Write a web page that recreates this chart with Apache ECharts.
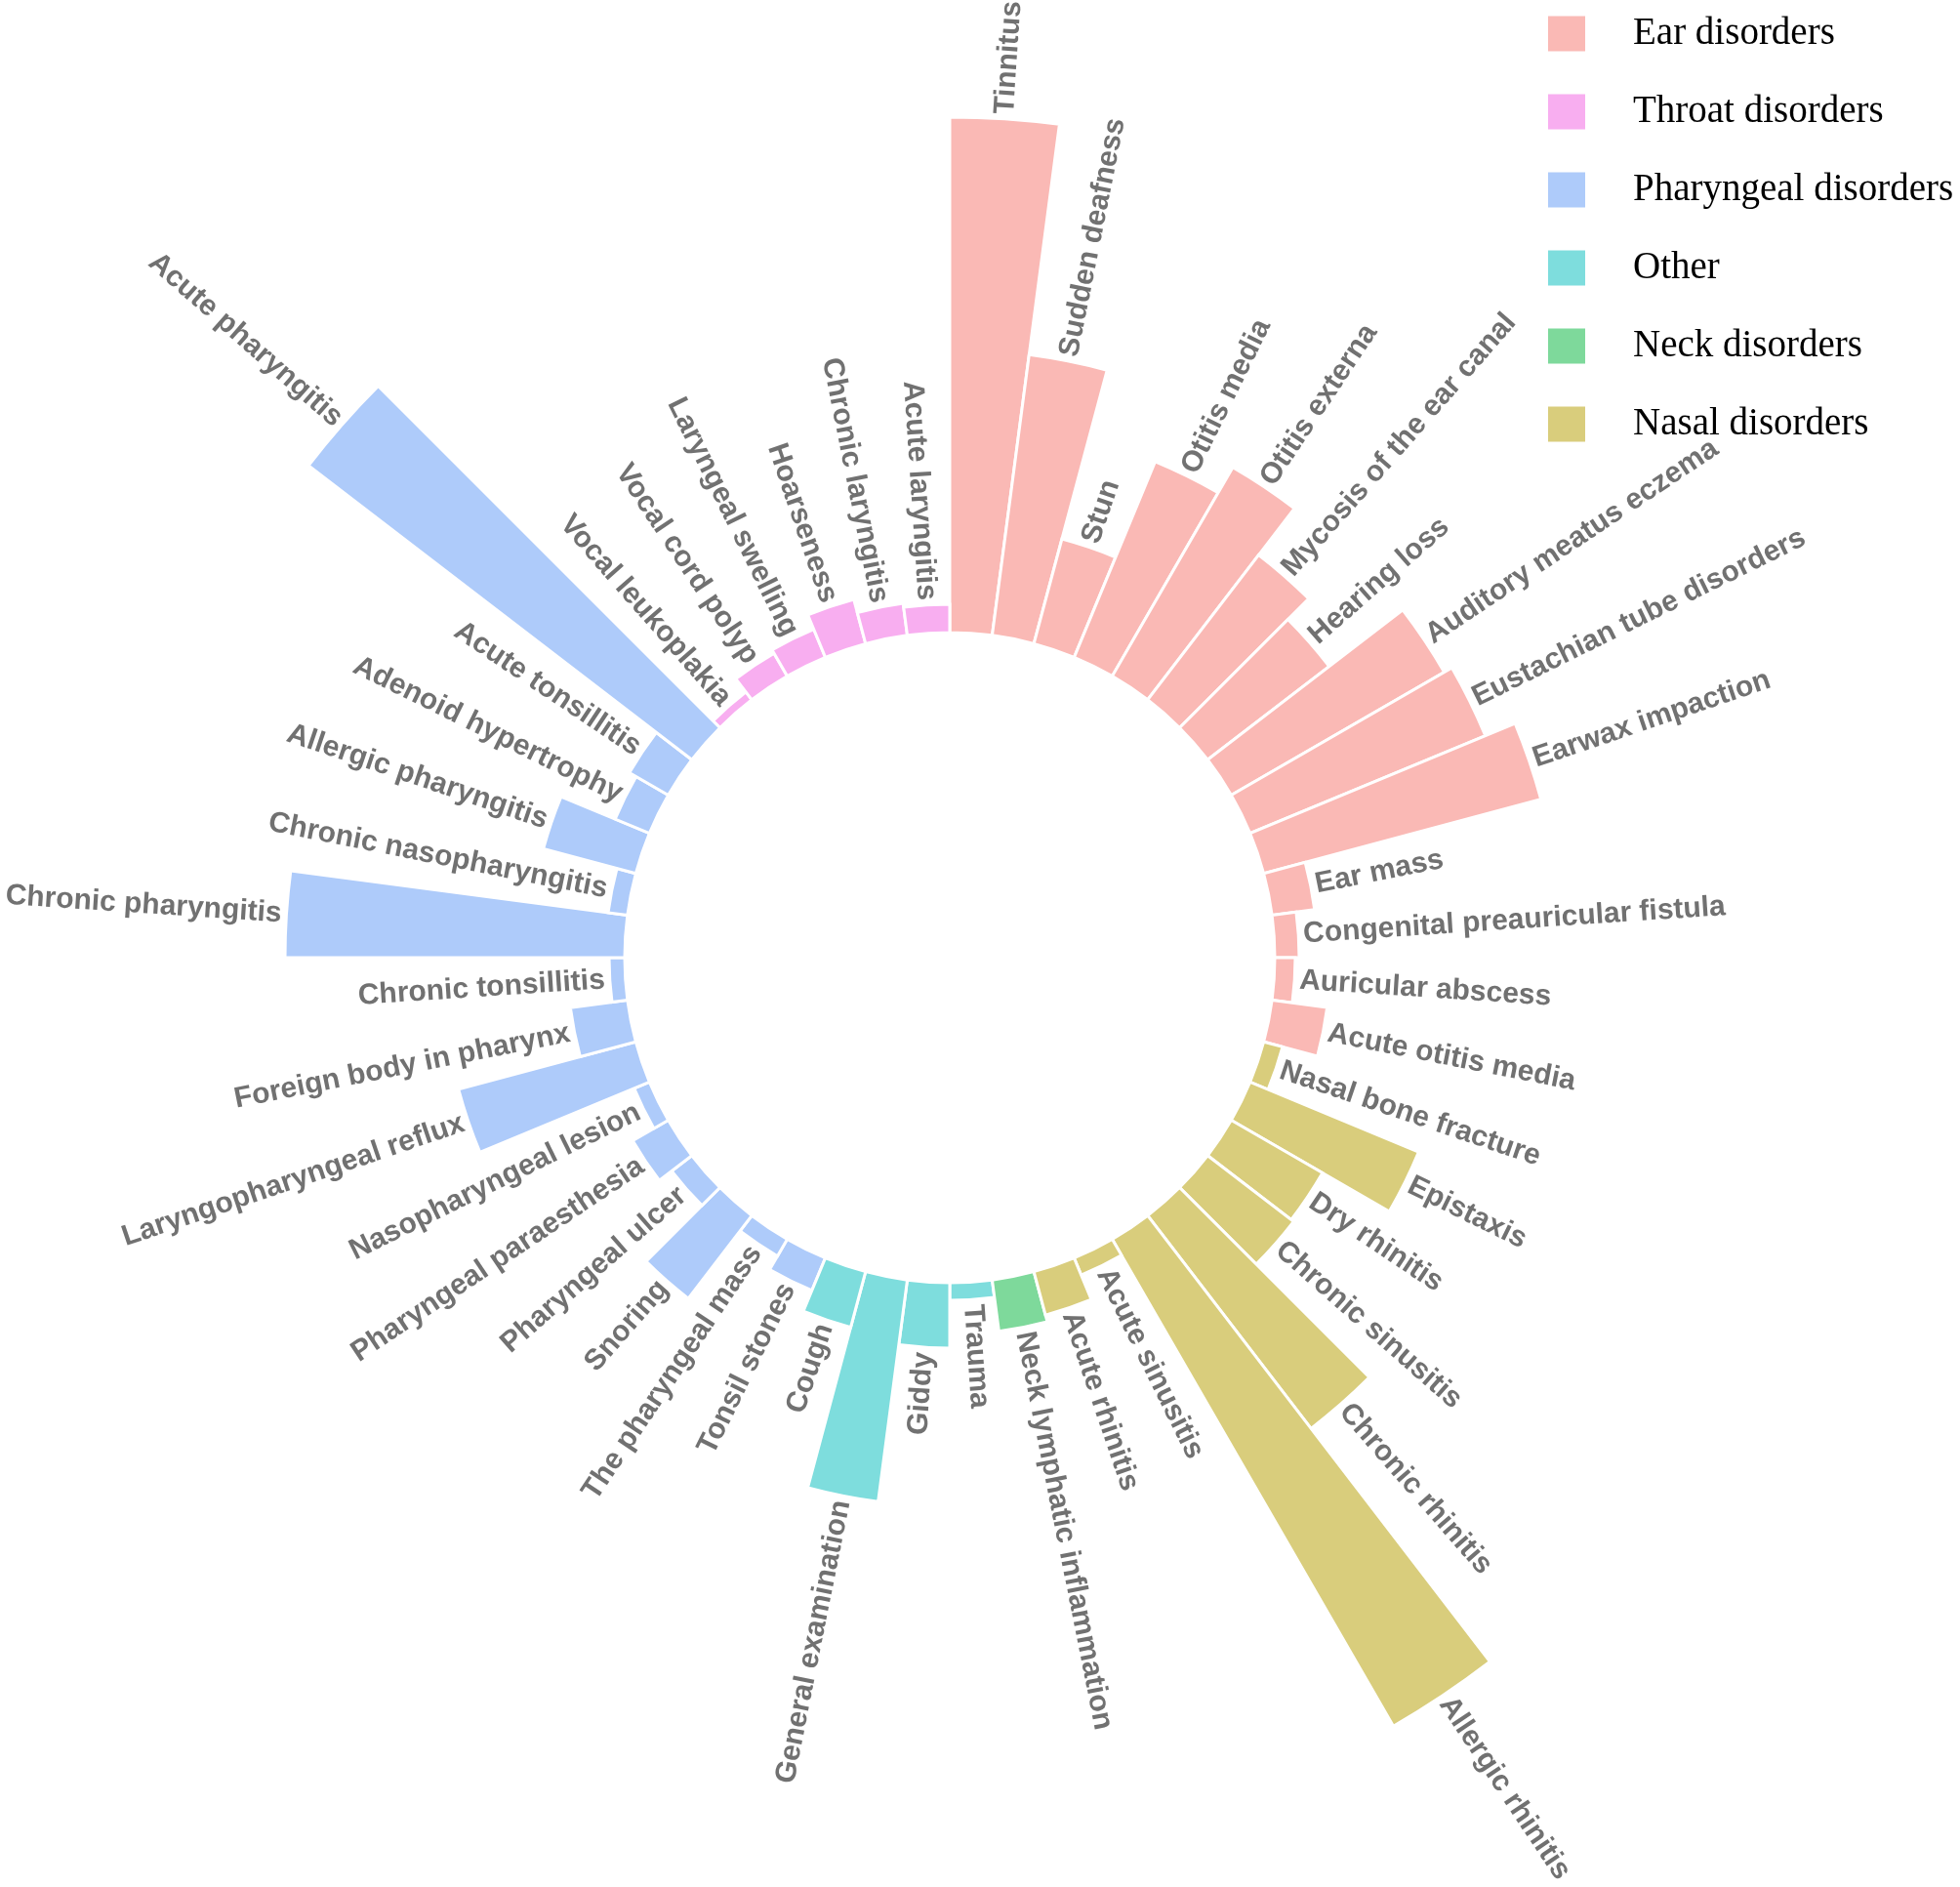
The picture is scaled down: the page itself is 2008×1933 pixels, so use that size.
<!DOCTYPE html>
<html><head><meta charset="utf-8">
<script src="https://cdn.jsdelivr.net/npm/echarts@6/dist/echarts.min.js"></script>
<style>html,body{margin:0;padding:0;background:#fff}#c{width:2008px;height:1933px}</style>
</head><body><div id="c"></div>
<script>
// Categories in clockwise order starting at 12 o'clock
const categories = [
  'Tinnitus','Sudden deafness','Stun','Otitis media','Otitis externa','Mycosis of the ear canal',
  'Hearing loss','Auditory meatus eczema','Eustachian tube disorders','Earwax impaction','Ear mass',
  'Congenital preauricular fistula','Auricular abscess','Acute otitis media',
  'Nasal bone fracture','Epistaxis','Dry rhinitis','Chronic sinusitis','Chronic rhinitis','Allergic rhinitis',
  'Acute sinusitis','Acute rhinitis',
  'Neck lymphatic inflammation',
  'Trauma','Giddy','General examination','Cough',
  'Tonsil stones','The pharyngeal mass','Snoring','Pharyngeal ulcer','Pharyngeal paraesthesia',
  'Nasopharyngeal lesion','Laryngopharyngeal reflux','Foreign body in pharynx','Chronic tonsillitis',
  'Chronic pharyngitis','Chronic nasopharyngitis','Allergic pharyngitis','Adenoid hypertrophy',
  'Acute tonsillitis','Acute pharyngitis',
  'Vocal leukoplakia','Vocal cord polyp','Laryngeal swelling','Hoarseness','Chronic laryngitis','Acute laryngitis'
];
const values = [
  528, 290, 111, 217, 247, 187,
  157, 252, 261, 294, 44,
  25, 21, 57,
  20, 187, 108, 111, 275, 576,
  19, 46,
  53,
  18, 67, 229, 59,
  36, 20, 107, 26, 42,
  17, 188, 59, 16,
  348, 20, 98, 38,
  46, 495,
  10, 27, 31, 47, 33, 29
];
const groups = [
  'Ear disorders','Ear disorders','Ear disorders','Ear disorders','Ear disorders','Ear disorders',
  'Ear disorders','Ear disorders','Ear disorders','Ear disorders','Ear disorders',
  'Ear disorders','Ear disorders','Ear disorders',
  'Nasal disorders','Nasal disorders','Nasal disorders','Nasal disorders','Nasal disorders','Nasal disorders',
  'Nasal disorders','Nasal disorders',
  'Neck disorders',
  'Other','Other','Other','Other',
  'Pharyngeal disorders','Pharyngeal disorders','Pharyngeal disorders','Pharyngeal disorders','Pharyngeal disorders',
  'Pharyngeal disorders','Pharyngeal disorders','Pharyngeal disorders','Pharyngeal disorders',
  'Pharyngeal disorders','Pharyngeal disorders','Pharyngeal disorders','Pharyngeal disorders',
  'Pharyngeal disorders','Pharyngeal disorders',
  'Throat disorders','Throat disorders','Throat disorders','Throat disorders','Throat disorders','Throat disorders'
];
const groupNames = ['Ear disorders','Throat disorders','Pharyngeal disorders','Other','Neck disorders','Nasal disorders'];
const groupColors = ['#FAB9B5','#F8AEF0','#AECBFA','#7EDDDD','#7ED99B','#D9CD7C'];

const n = categories.length;
const step = 360 / n;

const barSeries = groupNames.map((g, k) => ({
  type: 'bar',
  name: g,
  coordinateSystem: 'polar',
  data: values.map((v, i) => groups[i] === g ? v : '-'),
  barGap: '-100%',
  barCategoryGap: '0%',
  silent: true,
  itemStyle: { color: groupColors[k], borderColor: '#ffffff', borderWidth: 3 }
}));

const labelSeries = {
  type: 'scatter',
  coordinateSystem: 'polar',
  symbolSize: 0,
  silent: true,
  z: 5,
  label: {
    show: true,
    position: 'inside',
    formatter: '{b}',
    fontFamily: 'Liberation Sans, Arial, sans-serif',
    fontWeight: 'bold',
    fontSize: 30,
    color: '#4e4e4e',
    verticalAlign: 'middle'
  },
  data: categories.map((c, i) => {
    const th = step * i + step / 2;
    const right = th < 180;
    return {
      name: c,
      value: [values[i], c],
      label: {
        rotate: right ? 90 - th : 270 - th,
        align: right ? 'left' : 'right',
        padding: right ? [0, 0, 0, 5] : [0, 5, 0, 0]
      }
    };
  })
};

const chart = echarts.init(document.getElementById('c'));
chart.setOption({
  animation: false,
  backgroundColor: '#ffffff',
  legend: {
    data: groupNames,
    orient: 'vertical',
    left: 1586,
    top: 15,
    padding: 0,
    itemWidth: 38,
    itemHeight: 36,
    itemGap: 41,
    icon: 'rect',
    selectedMode: false,
    itemStyle: { borderWidth: 0 },
    textStyle: {
      fontFamily: 'Liberation Serif, Times New Roman, serif',
      fontSize: 39,
      color: '#000',
      padding: [0, 0, 0, 44]
    }
  },
  polar: { center: [973, 981], radius: [333, 933] },
  angleAxis: {
    type: 'category',
    data: categories,
    startAngle: 90,
    clockwise: true,
    axisLine: { show: false }, axisTick: { show: false }, axisLabel: { show: false }, splitLine: { show: false }
  },
  radiusAxis: {
    type: 'value', min: 0, max: 600,
    axisLine: { show: false }, axisTick: { show: false }, axisLabel: { show: false }, splitLine: { show: false }
  },
  series: barSeries.concat([labelSeries])
});
</script>
</body></html>
